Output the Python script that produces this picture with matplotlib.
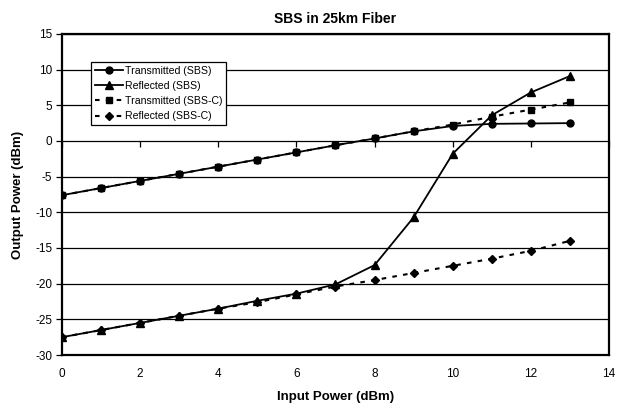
import matplotlib
matplotlib.use("Agg")
import matplotlib.pyplot as plt

plt.rcParams['font.family'] = ['Liberation Sans', 'DejaVu Sans']
plt.rcParams['axes.unicode_minus'] = False

input_power = [0, 1, 2, 3, 4, 5, 6, 7, 8, 9, 10, 11, 12, 13]
transmitted_sbs = [-7.6, -6.6, -5.6, -4.6, -3.6, -2.6, -1.6, -0.6, 0.35, 1.35, 2.1, 2.4, 2.45, 2.5]
reflected_sbs = [-27.5, -26.5, -25.5, -24.5, -23.5, -22.4, -21.4, -20.1, -17.4, -10.7, -1.8, 3.6, 6.8, 9.1]
transmitted_sbsc = [-7.6, -6.6, -5.6, -4.6, -3.6, -2.6, -1.6, -0.6, 0.35, 1.35, 2.3, 3.4, 4.4, 5.4]
reflected_sbsc = [-27.5, -26.5, -25.5, -24.5, -23.5, -22.6, -21.5, -20.4, -19.5, -18.5, -17.5, -16.5, -15.4, -14.0]

labels = ['Transmitted (SBS)', 'Reflected (SBS)', 'Transmitted (SBS-C)', 'Reflected (SBS-C)']
x_ticks = [0, 2, 4, 6, 8, 10, 12, 14]
y_ticks = [-30, -25, -20, -15, -10, -5, 0, 5, 10, 15]

fig = plt.figure(figsize=(6.17, 4.09), dpi=100)
ax = fig.add_axes([0.1005, 0.132, 0.8865, 0.785])

lw = 1.3
dash = (0, (2.2, 3.0))
ax.plot(input_power, transmitted_sbs, color='black', lw=lw, marker='o', ms=5, label=labels[0], zorder=3)
ax.plot(input_power, reflected_sbs, color='black', lw=lw, marker='^', ms=6, label=labels[1], zorder=3)
ax.plot(input_power, transmitted_sbsc, color='black', lw=1.5, ls=dash, marker='s', ms=5, label=labels[2], zorder=4)
ax.plot(input_power, reflected_sbsc, color='black', lw=1.5, ls=dash, marker='D', ms=4.5, label=labels[3], zorder=4)

ax.set_xlim(0, 14)
ax.set_ylim(-30, 15)
ax.set_xticks(x_ticks)
ax.set_yticks(y_ticks)
ax.yaxis.grid(True, color='black', lw=0.9)
ax.set_axisbelow(True)
for s in ax.spines.values():
    s.set_linewidth(1.6)
    s.set_color('black')
ax.tick_params(axis='x', length=0, labelsize=8.5, pad=9)
ax.tick_params(axis='y', direction='out', length=4, width=0.9, labelsize=8.5, pad=3)

# axis crossing at y = 0 (Excel style) with outward tick marks
sec = ax.secondary_xaxis(2 / 3)
sec.set_xticks(x_ticks)
sec.tick_params(axis='x', direction='out', length=4, width=0.9, labelbottom=False, labeltop=False, top=False, bottom=True)
sec.spines['bottom'].set_linewidth(0.9)
sec.spines['top'].set_visible(False)

ax.set_xlabel('Input Power (dBm)', fontsize=9.5, fontweight='bold', labelpad=8)
ax.set_ylabel('Output Power (dBm)', fontsize=9.5, fontweight='bold', labelpad=8)
ax.set_title('SBS in 25km Fiber', fontsize=10, fontweight='bold', pad=8)

leg = ax.legend(loc='upper left', bbox_to_anchor=(0.053, 0.913), fontsize=7.6, frameon=True,
                fancybox=False, edgecolor='black', framealpha=1, handlelength=2.7,
                handletextpad=0.15, borderpad=0.35, labelspacing=0.5, borderaxespad=0)
leg.get_frame().set_linewidth(0.9)

fig.savefig('out.png', dpi=100)
